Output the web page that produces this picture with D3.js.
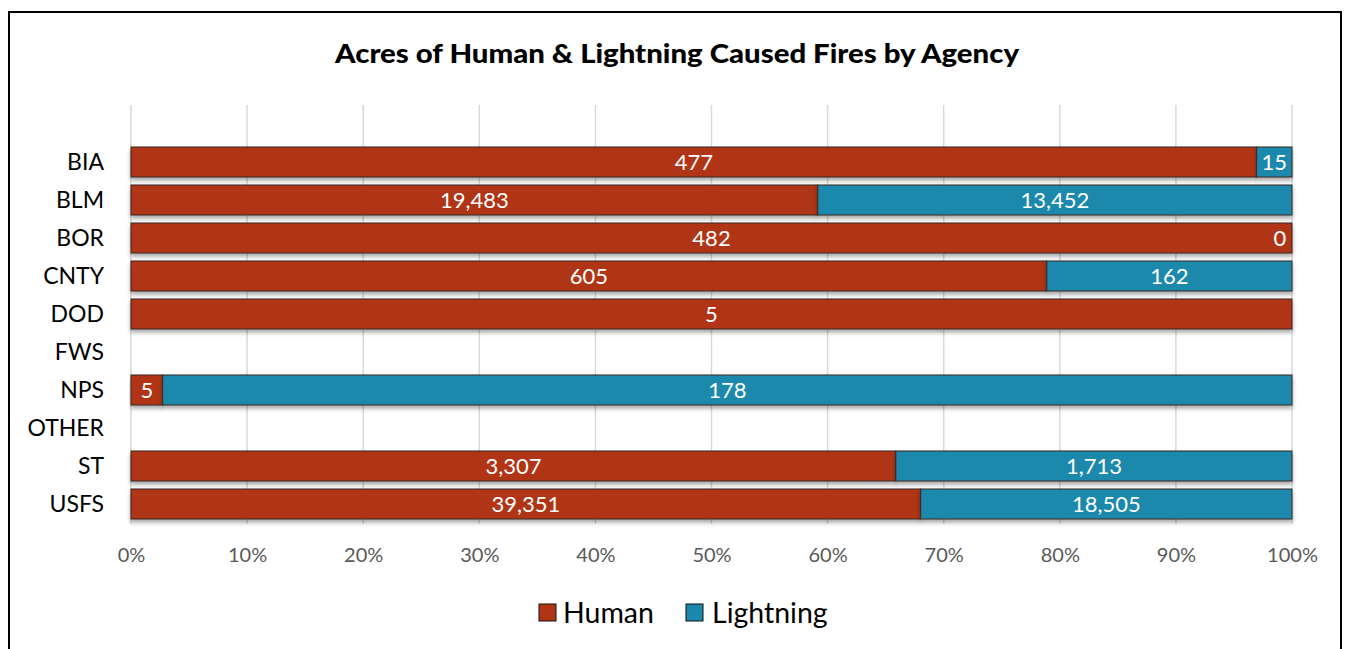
<!DOCTYPE html>
<html><head><meta charset="utf-8">
<script src="https://cdn.jsdelivr.net/npm/d3@7"></script>
<style>
html,body{margin:0;padding:0;background:#fff;}
svg{display:block;font-family:Lato,"Open Sans",sans-serif;}
</style></head>
<body>
<script>
const categories = ["BIA","BLM","BOR","CNTY","DOD","FWS","NPS","OTHER","ST","USFS"];
const humanValues = [477, 19483, 482, 605, 5, null, 5, null, 3307, 39351];
const lightningValues = [15, 13452, 0, 162, null, null, 178, null, 1713, 18505];
const seriesNames = ["Human","Lightning"];
const seriesColors = ["#B03515","#1A88AB"];
const tickValues = [0,0.1,0.2,0.3,0.4,0.5,0.6,0.7,0.8,0.9,1];

const W = 1348, H = 649;
const svg = d3.select("body").append("svg").attr("width", W).attr("height", H);

const defs = svg.append("defs");
const f = defs.append("filter").attr("id","sh").attr("x","-5%").attr("y","-30%").attr("width","110%").attr("height","180%");
f.append("feDropShadow").attr("dx",0).attr("dy",3).attr("stdDeviation",2).attr("flood-color","#000").attr("flood-opacity",0.35);

svg.append("rect").attr("x",9).attr("y",12).attr("width",1332).attr("height",660)
  .attr("fill","#fff").attr("stroke","#000").attr("stroke-width",2);

svg.append("text").attr("x",677).attr("y",63).attr("text-anchor","middle")
  .attr("font-size",27).attr("font-weight","900").attr("fill","#000")
  .attr("textLength",684).attr("lengthAdjust","spacingAndGlyphs")
  .text("Acres of Human & Lightning Caused Fires by Agency");

const x = d3.scaleLinear().domain([0,1]).range([131,1292]);
const y = d3.scaleBand().domain(categories).range([143,523]).paddingInner(0.21).paddingOuter(0.105);

// gridlines
svg.append("g").selectAll("line").data(tickValues).join("line")
  .attr("x1",d=>x(d)).attr("x2",d=>x(d)).attr("y1",105).attr("y2",524)
  .attr("stroke","#d9d9d9").attr("stroke-width",1.5);

// x axis labels
const xAxis = d3.axisBottom(x).tickValues(tickValues).tickFormat(d3.format(".0%")).tickSize(0).tickPadding(0);
const gx = svg.append("g").attr("transform","translate(0,548)").call(xAxis);
gx.select(".domain").remove();
gx.selectAll("text").attr("font-size",20).attr("fill","#595959").attr("font-family","Lato,'Open Sans',sans-serif");

// y axis labels
const yAxis = d3.axisLeft(y).tickSize(0).tickPadding(0);
const gy = svg.append("g").attr("transform","translate(104,0)").call(yAxis);
gy.select(".domain").remove();
gy.selectAll("text").attr("font-size",23).attr("fill","#000").attr("font-family","Lato,'Open Sans',sans-serif").attr("dy","0.35em");

// stacked data
const rows = categories.map((c,i)=>({cat:c, Human:humanValues[i], Lightning:lightningValues[i]}));
const segs = [];
rows.forEach(r=>{
  const tot = (r.Human||0)+(r.Lightning||0);
  if(!tot) return;
  let acc = 0;
  seriesNames.forEach((s,si)=>{
    const v = r[s];
    if(v===null || v===undefined) return;
    const p0 = acc/tot; acc += v; const p1 = acc/tot;
    segs.push({cat:r.cat, s, si, v, p0, p1});
  });
});

const gb = svg.append("g");
gb.selectAll("rect").data(segs.filter(d=>d.p1>d.p0)).join("rect")
  .attr("x",d=>x(d.p0)).attr("width",d=>x(d.p1)-x(d.p0))
  .attr("y",d=>y(d.cat)).attr("height",y.bandwidth())
  .attr("fill",d=>seriesColors[d.si]).attr("stroke","#3a2a22").attr("stroke-width",1)
  .attr("filter","url(#sh)");

const fmt = d3.format(",");
svg.append("g").selectAll("text").data(segs).join("text")
  .attr("x",d=>{
    if(d.p1===d.p0) return x(d.p1)-12;
    return (x(d.p0)+x(d.p1))/2;
  })
  .attr("y",d=>y(d.cat)+y.bandwidth()/2).attr("dy","0.36em")
  .attr("text-anchor","middle").attr("fill","#fff").attr("font-size",22)
  .text(d=>fmt(d.v));

// legend
const lg = svg.append("g");
const leg = [{x:539,tx:563},{x:686,tx:712}];
seriesNames.forEach((s,i)=>{
  lg.append("rect").attr("x",leg[i].x).attr("y",604).attr("width",17).attr("height",17)
    .attr("fill",seriesColors[i]).attr("stroke","#111").attr("stroke-width",1);
  lg.append("text").attr("x",leg[i].tx).attr("y",623).attr("font-size",28.5).attr("fill","#000").text(s);
});
</script>
</body></html>
